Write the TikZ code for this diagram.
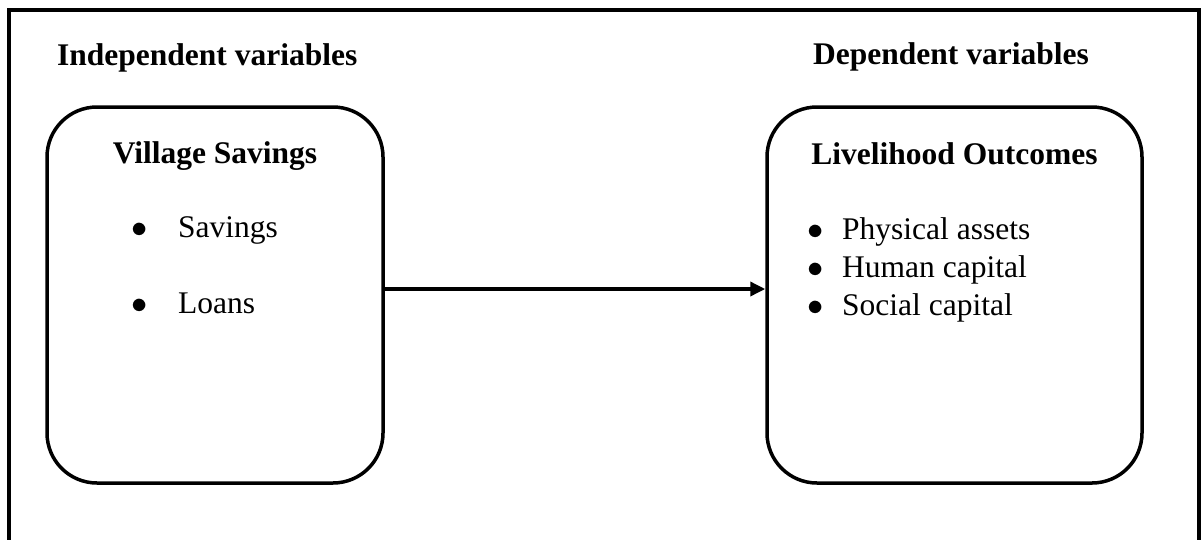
\documentclass[tikz,border=0pt]{standalone}
\usepackage{fontspec}
\usepackage{graphicx}
\setmainfont{Liberation Serif}
\usetikzlibrary{arrows.meta,positioning}
\newcommand{\bitem}[2]{\makebox[#1][l]{\scalebox{1.3}{$\bullet$}}#2}

\begin{document}
\begin{tikzpicture}[x=1pt, y=-1pt,
  font=\fontsize{31.5}{38}\selectfont,
  frame/.style={line width=3.5pt},
  rbox/.style={draw, line width=3.5pt, rounded corners=50pt,
    minimum width=#1, minimum height=376pt, inner sep=0pt},
  hdr/.style={font=\fontsize{31.5}{38}\selectfont\bfseries, anchor=base west, inner sep=0pt},
  ttl/.style={font=\fontsize{31.5}{38}\selectfont\bfseries, anchor=base, inner sep=0pt},
  itm/.style={anchor=base west, inner sep=0pt},
  >={Triangle[length=15pt,width=14pt]}]
  \useasboundingbox (0,0) rectangle (1202,539);
  \draw[frame] (9,10) rectangle (1199,600);
  % independent side
  \node[hdr] (indep) at (57,65) {Independent variables};
  \node[rbox=336pt] (vs) at (215,295) {};
  \node[ttl] (vsT) at (215,163) {Village Savings};
  \node[itm] (vs1) at (131,237) {\bitem{47pt}{Savings}};
  \node[itm] (vs2) at (131,313) {\bitem{47pt}{Loans}};
  % dependent side
  \node[hdr] (dep) at (813,64) {Dependent variables};
  \node[rbox=375pt] (lo) at (954.5,295) {};
  \node[ttl] (loT) at (954.5,164) {Livelihood Outcomes};
  \foreach \n/\y/\t in {1/239/Physical assets,2/277/Human capital,3/315/Social capital}
    \node[itm] (lo\n) at (807,\y) {\bitem{35pt}{\t}};
  \draw[->, line width=3.5pt] ([yshift=6pt]vs.east) -- ([yshift=6pt]lo.west);
\end{tikzpicture}
\end{document}
